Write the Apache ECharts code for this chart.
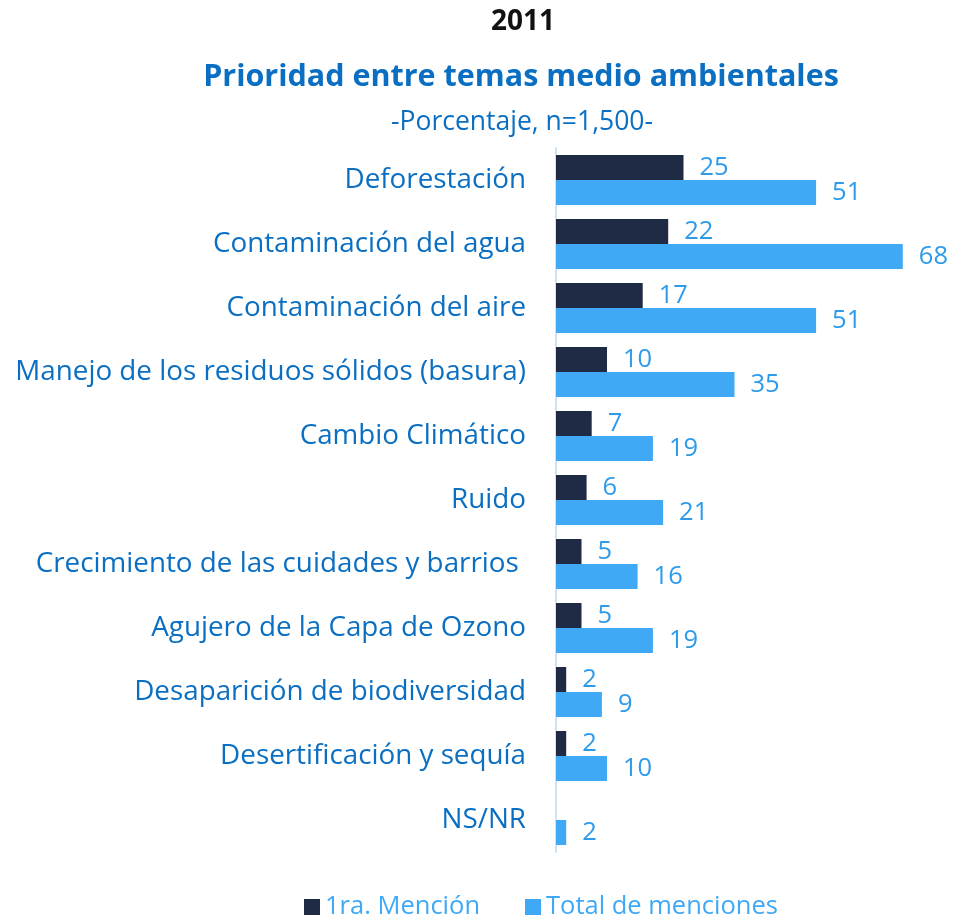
<!DOCTYPE html>
<html>
<head>
<meta charset="utf-8">
<script src="https://cdn.jsdelivr.net/npm/echarts@6/dist/echarts.min.js"></script>
<style>
  html, body { margin: 0; padding: 0; background: #fff; }
  #chart { width: 953px; height: 919px; }
</style>
</head>
<body>
<div id="chart"></div>
<script>
const categories = [
  'Deforestación',
  'Contaminación del agua',
  'Contaminación del aire',
  'Manejo de los residuos sólidos (basura)',
  'Cambio Climático',
  'Ruido',
  'Crecimiento de las cuidades y barrios ',
  'Agujero de la Capa de Ozono',
  'Desaparición de biodiversidad',
  'Desertificación y sequía',
  'NS/NR'
]
const primeraMencion = [25, 22, 17, 10, 7, 6, 5, 5, 2, 2, null]
const totalMenciones = [51, 68, 51, 35, 19, 21, 16, 19, 9, 10, 2]

const font = '"Open Sans", sans-serif'
const darkColor = '#1F2A44'
const lightColor = '#3FA9F5'
const labelColor = '#2E9BEA'

const chart = echarts.init(document.getElementById('chart'))

chart.setOption({
  animation: false,
  title: [
    {
      text: '2011',
      left: 518,
      textAlign: 'center',
      top: 3,
      textStyle: { fontFamily: font, fontSize: 28, fontWeight: 'bold', color: '#111' }
    },
    {
      text: 'Prioridad entre temas medio ambientales',
      left: 516,
      textAlign: 'center',
      top: 57,
      textStyle: { fontFamily: font, fontSize: 30.5, fontWeight: 'bold', color: '#0A6FC2' }
    },
    {
      text: '-Porcentaje, n=1,500-',
      left: 517,
      textAlign: 'center',
      top: 104,
      textStyle: { fontFamily: font, fontSize: 26.5, fontWeight: 'normal', color: '#0A6FC2' }
    }
  ],
  legend: {
    top: 889,
    left: 299,
    itemWidth: 16,
    itemHeight: 16,
    itemGap: 45,
    icon: 'rect',
    textStyle: { fontFamily: font, fontSize: 25.5, color: lightColor },
    data: ['1ra. Mención', 'Total de menciones']
  },
  grid: { left: 556, right: 40, top: 148, bottom: 67, containLabel: false },
  xAxis: {
    type: 'value',
    min: 0,
    max: 70,
    show: false
  },
  yAxis: {
    type: 'category',
    inverse: true,
    data: categories,
    axisTick: { show: false },
    axisLine: { show: true, lineStyle: { color: '#CFE3F5', width: 2 } },
    axisLabel: {
      fontFamily: font,
      fontSize: 27.8,
      color: '#0A6FC2',
      margin: 30
    }
  },
  series: [
    {
      name: '1ra. Mención',
      type: 'bar',
      data: primeraMencion,
      barWidth: 25,
      barGap: '0%',
      itemStyle: { color: darkColor },
      label: {
        show: true,
        position: 'right',
        distance: 16,
        fontFamily: font,
        fontSize: 25.5,
        color: labelColor
      }
    },
    {
      name: 'Total de menciones',
      type: 'bar',
      data: totalMenciones,
      barWidth: 25,
      barGap: '0%',
      itemStyle: { color: lightColor },
      label: {
        show: true,
        position: 'right',
        distance: 16,
        fontFamily: font,
        fontSize: 25.5,
        color: labelColor
      }
    }
  ]
})
</script>
</body>
</html>
